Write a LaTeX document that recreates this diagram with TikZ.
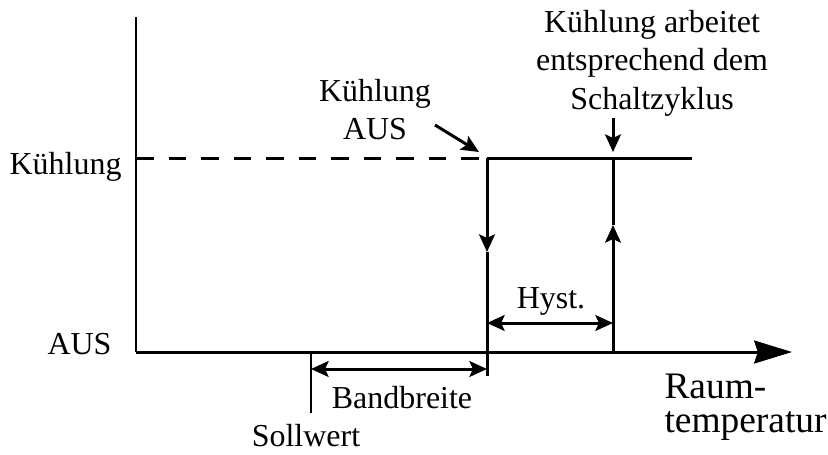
\documentclass[tikz,border=0pt]{standalone}
\usepackage{fontspec}
\setmainfont{Liberation Serif}
\usetikzlibrary{arrows.meta, positioning}

\tikzset{
  lbl/.style={inner sep=0pt, font=\fontsize{18.2}{21.8}\selectfont},
  biglbl/.style={inner sep=0pt, font=\fontsize{21.3}{19.8}\selectfont},
  tip/.style={-{Stealth[length=10pt,width=9pt,inset=2pt]}},
  dim/.style={{Stealth[length=10pt,width=9pt,inset=2pt]}-{Stealth[length=10pt,width=9pt,inset=2pt]}}
}

\begin{document}
\begin{tikzpicture}[x=0.02cm, y=-0.02cm, line width=1.7pt]
\useasboundingbox (0,0) rectangle (828,454);
% points
\coordinate (o) at (136,352);
\coordinate (ytop) at (136,17);
\coordinate (xend) at (792,352);
\coordinate (kon) at (136,158);
\coordinate (off) at (487,158);
\coordinate (on) at (613,158);
\coordinate (hiend) at (692,158);
\coordinate (offmid) at (487,252);
\coordinate (offbot) at (487,376);
\coordinate (onmid) at (613,225);
\coordinate (onbot) at (613,352);
\coordinate (setp) at (311,352);
\coordinate (setbot) at (311,413);
\coordinate (h1) at (487,323);
\coordinate (h2) at (613,323);
\coordinate (b1) at (311,369);
\coordinate (b2) at (487,369);
\coordinate (c1) at (435,125);
\coordinate (c1e) at (479,152);
\coordinate (c2) at (613,118);
\coordinate (c2e) at (613,152);
% axes
\draw (ytop) -- (o);
\draw[-{Stealth[length=21.5pt,width=13pt,inset=2pt]}] (o) -- (xend);
% switching curve
\draw[dash pattern=on 10pt off 8.5pt] (kon) -- (off);
\draw (off) -- (hiend);
\draw[tip] (off) -- (offmid);
\draw (offmid) -- (offbot);
\draw[tip] (onbot) -- (onmid);
\draw (onmid) -- (on);
\draw (setp) -- (setbot);
% dimensions
\draw[dim] (h1) -- (h2);
\draw[dim] (b1) -- (b2);
% callouts
\draw[tip] (c1) -- (c1e);
\draw[tip] (c2) -- (c2e);
% labels
\node[lbl, anchor=base east] (kuehl) at (123,174) {Kühlung};
\node[lbl, anchor=base east] (aus) at (113,354) {AUS};
\node[lbl, anchor=base] (hyst) at (551,308) {Hyst.};
\node[lbl, anchor=base] (band) at (402,408) {Bandbreite};
\node[lbl, anchor=base] (soll) at (306,446) {Sollwert};
\node[lbl, align=center, anchor=north] (kaus) at (375,78) {Kühlung\\AUS};
\node[lbl, align=center, anchor=north] (kzyk) at (652,9) {Kühlung arbeitet\\entsprechend dem\\Schaltzyklus};
\node[biglbl, align=left, anchor=north west] (raum) at (663,372) {Raum-\\temperatur};
\end{tikzpicture}
\end{document}
